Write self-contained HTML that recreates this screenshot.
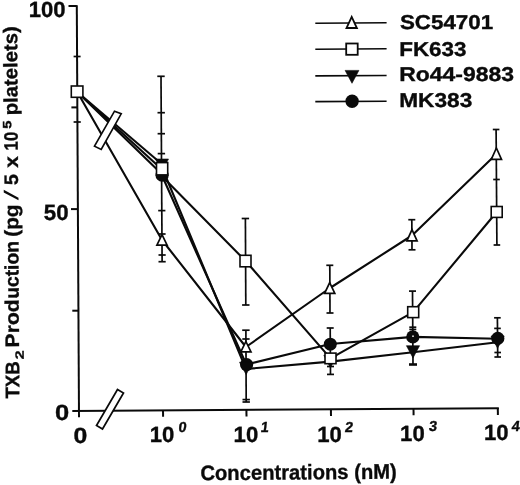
<!DOCTYPE html>
<html>
<head>
<meta charset="utf-8">
<title>TXB2 Production</title>
<style>
  html, body { margin: 0; padding: 0; background: #ffffff; }
  body { width: 520px; height: 485px; overflow: hidden; }
  svg { display: block; will-change: transform; filter: grayscale(1); }
  text { font-family: "Liberation Sans", sans-serif; font-weight: bold; fill: #0a0a0a; stroke: #0a0a0a; stroke-width: 0.35px; text-rendering: geometricPrecision; }
</style>
</head>
<body>
<svg width="520" height="485" viewBox="0 0 520 485">
  <rect x="0" y="0" width="520" height="485" fill="#ffffff"/>

  <!-- AXES -->
  <g stroke="#0a0a0a" stroke-width="2" fill="none" stroke-linecap="butt">
    <line x1="76.8" y1="5.3" x2="79" y2="417.2"/>
    <line x1="72.3" y1="411" x2="498.8" y2="408.2"/>
    <!-- y ticks -->
    <line x1="68.5" y1="6" x2="76.8" y2="6"/>
    <line x1="71.4" y1="107.4" x2="77.3" y2="107.4"/>
    <line x1="71" y1="209.1" x2="77.9" y2="209.1"/>
    <line x1="72.3" y1="310.7" x2="78.5" y2="310.7"/>
    <!-- x ticks -->
    <line x1="163" y1="410.3" x2="163.1" y2="416.8"/>
    <line x1="246.4" y1="409.8" x2="246.5" y2="416.4"/>
    <line x1="330.9" y1="409.2" x2="331" y2="416"/>
    <line x1="413.5" y1="408.7" x2="413.6" y2="415.2"/>
    <line x1="497.8" y1="408.1" x2="497.9" y2="414.9"/>
  </g>

  <!-- ERROR BARS -->
  <g id="err" stroke="#0a0a0a" stroke-width="1.7" fill="none">
    <!-- x = 0 -->
    <line x1="73.6" y1="56.5" x2="80.6" y2="56.5"/>
    <line x1="73.6" y1="122" x2="80.8" y2="122"/>
    <!-- 10^0 -->
    <line x1="161" y1="76.3" x2="162.1" y2="262"/>
    <line x1="157.3" y1="76.3" x2="164.7" y2="76.3"/>
    <line x1="157.5" y1="112.7" x2="164.9" y2="112.7"/>
    <line x1="157.6" y1="133.7" x2="165" y2="133.7"/>
    <line x1="157.7" y1="153.6" x2="165.1" y2="153.6"/>
    <line x1="158.2" y1="210.6" x2="165.4" y2="210.6"/>
    <line x1="158.4" y1="234" x2="165.6" y2="234"/>
    <line x1="158.5" y1="255" x2="165.7" y2="255"/>
    <line x1="158.5" y1="261.7" x2="165.7" y2="261.7"/>
    <!-- 10^1 -->
    <line x1="245.4" y1="218.5" x2="245.8" y2="305"/>
    <line x1="241.7" y1="218.5" x2="249.1" y2="218.5"/>
    <line x1="242.1" y1="305" x2="249.5" y2="305"/>
    <line x1="245.9" y1="330.2" x2="246.2" y2="402"/>
    <line x1="242.2" y1="330.2" x2="249.6" y2="330.2"/>
    <line x1="242.3" y1="339" x2="249.6" y2="339"/>
    <line x1="242.5" y1="399.6" x2="249.9" y2="399.6"/>
    <line x1="242.5" y1="402" x2="249.9" y2="402"/>
    <!-- 10^2 -->
    <line x1="329.8" y1="265.3" x2="330" y2="313"/>
    <line x1="326.3" y1="265.3" x2="333.3" y2="265.3"/>
    <line x1="326.5" y1="313" x2="333.5" y2="313"/>
    <line x1="330.2" y1="328" x2="330.5" y2="374.4"/>
    <line x1="326.7" y1="328" x2="333.7" y2="328"/>
    <line x1="327" y1="366.5" x2="334" y2="366.5"/>
    <line x1="327" y1="374.4" x2="334" y2="374.4"/>
    <!-- 10^3 -->
    <line x1="411.8" y1="219.7" x2="412" y2="249.8"/>
    <line x1="408.3" y1="219.7" x2="415.3" y2="219.7"/>
    <line x1="408.5" y1="249.8" x2="415.5" y2="249.8"/>
    <line x1="412.5" y1="291.1" x2="413" y2="364.5"/>
    <line x1="409" y1="291.1" x2="416" y2="291.1"/>
    <line x1="409.3" y1="327.2" x2="416.3" y2="327.2"/>
    <line x1="409.3" y1="329.4" x2="416.3" y2="329.4"/>
    <line x1="409" y1="364.5" x2="417" y2="364.5" stroke-width="2.6"/>
    <!-- 10^4 -->
    <line x1="496.1" y1="129.5" x2="496.9" y2="245"/>
    <line x1="492.8" y1="129.5" x2="499.4" y2="129.5"/>
    <line x1="493.2" y1="179.5" x2="499.8" y2="179.5"/>
    <line x1="493.6" y1="245" x2="500.2" y2="245"/>
    <line x1="497.4" y1="317.8" x2="497.7" y2="357"/>
    <line x1="494.1" y1="317.8" x2="500.7" y2="317.8"/>
    <line x1="494.2" y1="328.4" x2="500.8" y2="328.4"/>
    <line x1="494.4" y1="352.5" x2="501" y2="352.5"/>
    <line x1="494.4" y1="357" x2="501" y2="357"/>
  </g>

  <!-- SERIES LINES -->
  <g stroke="#0a0a0a" stroke-width="2.1" fill="none" stroke-linejoin="round">
    <!-- MK383 -->
    <polyline points="77.3,92 162,174.2 162,175.5 246.3,364.5 330.3,344 412.8,336.9 497.6,338.8"/>
    <!-- Ro44-9883 -->
    <polyline points="77.3,92 162,164.3"/>
    <polyline points="162,167.5 246,369 330.4,361.6 413,352.2 497.6,342.2"/>
    <!-- FK633 -->
    <polyline points="77.3,92 162,169.5"/>
    <polyline points="162,176.2 245.6,261 330.5,358.4 413.2,312.1 496.7,212"/>
    <!-- SC54701 -->
    <polyline points="77.3,92 162,240 245.9,347 330,288 412,235.5 496.4,154"/>
  </g>

  <!-- BREAK MARKS -->
  <g stroke="#0a0a0a" stroke-width="1.7" fill="#ffffff" stroke-linejoin="miter">
    <polygon points="114.5,111.2 121.2,113.8 101.2,149.5 94.5,146.2"/>
    <polygon points="117.5,389.5 123.5,393 102.5,429 96.5,425.5"/>
  </g>

  <!-- MARKERS -->
  <!-- MK383 circles -->
  <g fill="#0a0a0a" stroke="none">
    <circle cx="162.1" cy="175.2" r="6.6"/>
    <circle cx="246.6" cy="364.6" r="6.6"/>
    <circle cx="330.3" cy="344.2" r="6.5"/>
    <circle cx="412.8" cy="336.9" r="6.6"/>
    <circle cx="497.8" cy="338.4" r="6.6"/>
  </g>
  <circle cx="413" cy="336.2" r="0.9" fill="#e8e8e8"/>
  <!-- Ro44 filled triangle-down -->
  <g fill="#0a0a0a" stroke="#0a0a0a" stroke-width="0.6" stroke-linejoin="miter">
    <polygon points="155.5,159 168.5,159 162,171.4"/>
    <polygon points="239.5,362.2 252.7,362.2 246.1,374.6"/>
    <polygon points="323.8,355.3 337.0,355.3 330.4,367.7"/>
    <polygon points="406.4,345.7 419.6,345.7 413,357.9"/>
    <polygon points="491.0,336 504.2,336 497.6,348.2"/>
  </g>
  <!-- FK633 squares -->
  <g fill="#ffffff" stroke="#0a0a0a" stroke-width="1.6">
    <rect x="71.3" y="86" width="11.6" height="11.3"/>
    <rect x="156.5" y="162.6" width="11.2" height="12.3"/>
    <rect x="240" y="255.3" width="11" height="11.5"/>
    <rect x="325" y="353.1" width="11" height="10.6"/>
    <rect x="407.7" y="306.7" width="11" height="10.9"/>
    <rect x="491.2" y="206.5" width="11" height="10.9"/>
  </g>
  <!-- SC54701 open triangles -->
  <g fill="#ffffff" stroke="#0a0a0a" stroke-width="1.7" stroke-linejoin="miter">
    <polygon points="162,234.6 167.1,245.1 156.9,245.1"/>
    <polygon points="245.9,341.5 251.0,351.9 240.8,351.9"/>
    <polygon points="329.7,282.6 334.8,293.4 324.6,293.4"/>
    <polygon points="412,229.6 417.1,240.8 406.9,240.8"/>
    <polygon points="496.4,148.0 501.5,159.3 491.3,159.3"/>
  </g>

  <!-- LEGEND -->
  <g stroke="#0a0a0a" stroke-width="1.6" fill="none">
    <line x1="315.3" y1="23.2" x2="386.6" y2="22.8"/>
    <line x1="315.3" y1="49.2" x2="386.6" y2="48.8"/>
    <line x1="315.3" y1="75.9" x2="386.6" y2="75.5"/>
    <line x1="315.3" y1="101.6" x2="386.6" y2="101.2"/>
  </g>
  <polygon points="351.7,16.9 356.9,28 346.5,28" fill="#ffffff" stroke="#0a0a0a" stroke-width="1.8"/>
  <rect x="346.2" y="43.5" width="11.5" height="11.3" fill="#ffffff" stroke="#0a0a0a" stroke-width="1.8"/>
  <polygon points="345.1,70.4 358.9,70.4 352,83.3" fill="#0a0a0a" stroke="#0a0a0a" stroke-width="0.6"/>
  <circle cx="352.1" cy="101.3" r="6.7" fill="#0a0a0a"/>

  <g font-size="20px">
    <text x="399.9" y="28.7" textLength="93.3" lengthAdjust="spacingAndGlyphs">SC54701</text>
    <text x="399.2" y="55.5" textLength="67.3" lengthAdjust="spacingAndGlyphs">FK633</text>
    <text x="399.2" y="80.8" textLength="114.8" lengthAdjust="spacingAndGlyphs">Ro44-9883</text>
    <text x="399.2" y="106.8" textLength="73.1" lengthAdjust="spacingAndGlyphs">MK383</text>
  </g>

  <!-- Y TICK LABELS -->
  <g font-size="22px">
    <text x="28.8" y="17.1" textLength="36.8" lengthAdjust="spacingAndGlyphs">100</text>
    <text x="43.8" y="220.2" textLength="24.8" lengthAdjust="spacingAndGlyphs">50</text>
    <text x="55" y="419.5" textLength="14.2" lengthAdjust="spacingAndGlyphs">0</text>
  </g>

  <!-- X TICK LABELS -->
  <g font-size="22px">
    <text x="73.5" y="442.5" textLength="13.8" lengthAdjust="spacingAndGlyphs">0</text>
    <text x="149.8" y="442.4" textLength="24.6" lengthAdjust="spacingAndGlyphs">10</text>
    <text x="233.6" y="442" textLength="24.6" lengthAdjust="spacingAndGlyphs">10</text>
    <text x="317.2" y="441.6" textLength="24.6" lengthAdjust="spacingAndGlyphs">10</text>
    <text x="400.1" y="440.9" textLength="24.6" lengthAdjust="spacingAndGlyphs">10</text>
    <text x="483.9" y="440.1" textLength="24.6" lengthAdjust="spacingAndGlyphs">10</text>
  </g>
  <g font-size="14.5px" style="stroke-width:0.25px">
    <text transform="translate(178 432.3) skewX(-7)">0</text>
    <text transform="translate(260.2 432) skewX(-7)">1</text>
    <text transform="translate(344.5 431.9) skewX(-7)">2</text>
    <text transform="translate(428.5 431.3) skewX(-7)">3</text>
    <text transform="translate(511.2 430.8) skewX(-7)">4</text>
  </g>

  <!-- X AXIS LABEL -->
  <text x="200.4" y="480.2" font-size="21px" textLength="196.4" lengthAdjust="spacingAndGlyphs" transform="rotate(-0.45 200 480)">Concentrations (nM)</text>

  <!-- Y AXIS LABEL -->
  <g transform="translate(19.3 398.6) rotate(-90.35)" font-size="19.5px">
    <text x="0" y="0" textLength="37.4" lengthAdjust="spacingAndGlyphs">TXB</text>
    <text x="39.4" y="4.7" font-size="12px" textLength="9" lengthAdjust="spacingAndGlyphs">2</text>
    <text x="51.2" y="0" textLength="48.1" lengthAdjust="spacingAndGlyphs">Prod</text>
    <text x="99.8" y="0" textLength="57.8" lengthAdjust="spacingAndGlyphs">uction</text>
    <text x="161.8" y="0" textLength="32.4" lengthAdjust="spacingAndGlyphs">(pg</text>
    <polygon points="198.3,0.4 200.9,0.4 208.9,-14.3 206.3,-14.3" fill="#0a0a0a" stroke="none"/>
    <text x="213.7" y="0">5</text>
    <text x="230.8" y="0" textLength="11.6" lengthAdjust="spacingAndGlyphs">x</text>
    <text x="248.2" y="0" textLength="18.6" lengthAdjust="spacingAndGlyphs">10</text>
    <text x="269.8" y="-6.4" font-size="12px" textLength="8.2" lengthAdjust="spacingAndGlyphs">5</text>
    <text x="283.3" y="0" textLength="89" lengthAdjust="spacingAndGlyphs">platelets)</text>
  </g>
</svg>
</body>
</html>
